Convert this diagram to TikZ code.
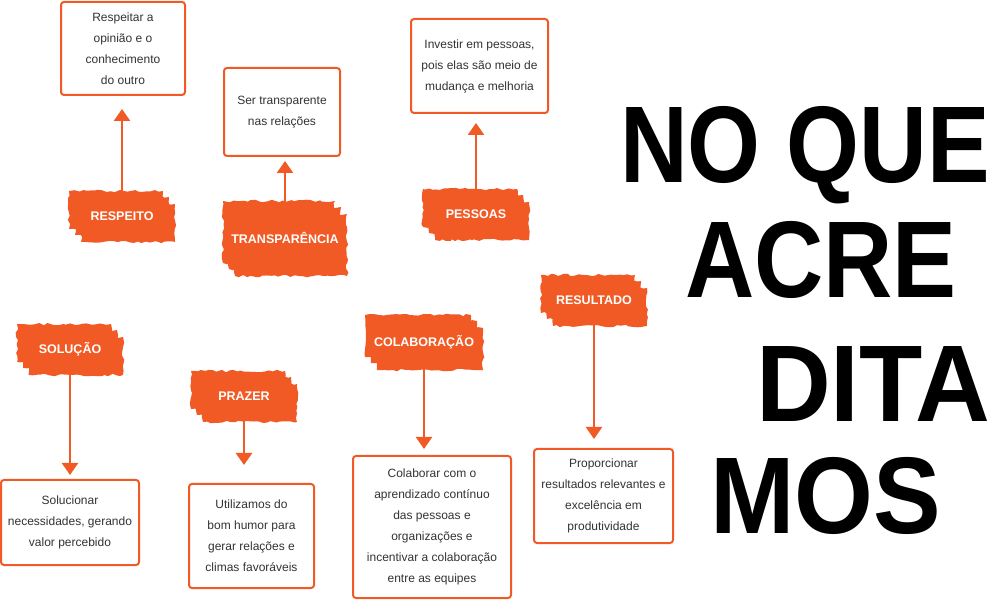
\documentclass[tikz,border=0pt]{standalone}
\usepackage{fontspec}
\setmainfont{Liberation Sans}
\usepackage{tikz}
\usetikzlibrary{arrows.meta,decorations.pathmorphing}

\definecolor{accent}{RGB}{241,90,36}
\definecolor{bodytext}{RGB}{51,51,51}

\tikzset{
  idea/.style={draw=accent, line width=2pt, rounded corners=3pt, fill=white,
    align=center, text=bodytext, font=\fontsize{12}{21}\selectfont, inner sep=0pt},
  brush/.style={fill=accent, text=white, font=\bfseries\fontsize{12.5}{14}\selectfont,
    minimum width=94pt, minimum height=38pt, inner sep=2pt,
    decorate, decoration={random steps, segment length=4pt, amplitude=1.3pt},
    preaction={fill=accent, decorate, transform canvas={shift={(-6pt,6pt)}}},
    preaction={fill=accent, decorate, transform canvas={shift={(6pt,-7pt)}}}},
  link/.style={accent, line width=2.5pt, -{Triangle[width=16pt,length=12pt]}},
  headline/.style={font=\bfseries\fontsize{109}{109}\selectfont, anchor=base west, inner sep=0pt}
}

\begin{document}
\begin{tikzpicture}[x=1pt,y=-1pt]
    \pgfmathsetseed{11}
    \useasboundingbox (0,0) rectangle (994,601);

    % boxes
    \node[idea, minimum width=124pt, minimum height=93pt] (opiniao) at (123,48.5) {Respeitar a\\opinião e o\\conhecimento\\do outro};
    \node[idea, minimum width=116pt, minimum height=88pt] (relacoes) at (282,112) {Ser transparente\\nas relações};
    \node[idea, minimum width=137pt, minimum height=94pt] (investir) at (479.5,66) {Investir em pessoas,\\pois elas são meio de\\mudança e melhoria};
    \node[idea, minimum width=138pt, minimum height=85pt] (necessidades) at (70,522.5) {Solucionar\\necessidades, gerando\\valor percebido};
    \node[idea, minimum width=125pt, minimum height=104pt] (humor) at (251.5,536) {Utilizamos do\\bom humor para\\gerar relações e\\climas favoráveis};
    \node[idea, minimum width=158pt, minimum height=142pt] (aprendizado) at (432,527) {Colaborar com o\\aprendizado contínuo\\das pessoas e\\organizações e\\incentivar a colaboração\\entre as equipes};
    \node[idea, minimum width=139pt, minimum height=94pt] (produtividade) at (603.5,496) {Proporcionar\\resultados relevantes e\\excelência em\\produtividade};

    % brush labels
    \node[brush] (respeito) at (122,216) {RESPEITO};
    \node[brush, minimum width=112pt, minimum height=62pt] (transparencia) at (285,238) {TRANSPARÊNCIA};
    \node[brush] (pessoas) at (476,214) {PESSOAS};
    \node[brush] (solucao) at (70,349) {SOLUÇÃO};
    \node[brush] (prazer) at (244,396) {PRAZER};
    \node[brush, minimum width=106pt, minimum height=42pt] (colaboracao) at (424,342) {COLABORAÇÃO};
    \node[brush] (resultado) at (594,300) {RESULTADO};

    % arrows
    \draw[link, shorten >=13pt] (respeito.north) -- (respeito.north |- opiniao.south);
    \draw[link, shorten >=4pt] (transparencia.north) -- (transparencia.north |- relacoes.south);
    \draw[link, shorten >=9pt] (pessoas.north) -- (pessoas.north |- investir.south);
    \draw[link, shorten >=4pt] (solucao.south) -- (solucao.south |- necessidades.north);
    \draw[link, shorten >=18pt] (prazer.south) -- (prazer.south |- humor.north);
    \draw[link, shorten >=6pt] (colaboracao.south) -- (colaboracao.south |- aprendizado.north);
    \draw[link, shorten >=9pt] (resultado.south) -- (resultado.south |- produtividade.north);

    % title
    \node[headline] (line1) at (620,183) {\scalebox{0.86}[1]{NO QUE}};
    \node[headline] (line2) at (685,298) {\scalebox{0.88}[1]{ACRE}};
    \node[headline] (line3) at (756,422) {\scalebox{0.95}[1]{DITA}};
    \node[headline] (line4) at (710,533) {\scalebox{0.93}[1]{MOS}};
\end{tikzpicture}
\end{document}
